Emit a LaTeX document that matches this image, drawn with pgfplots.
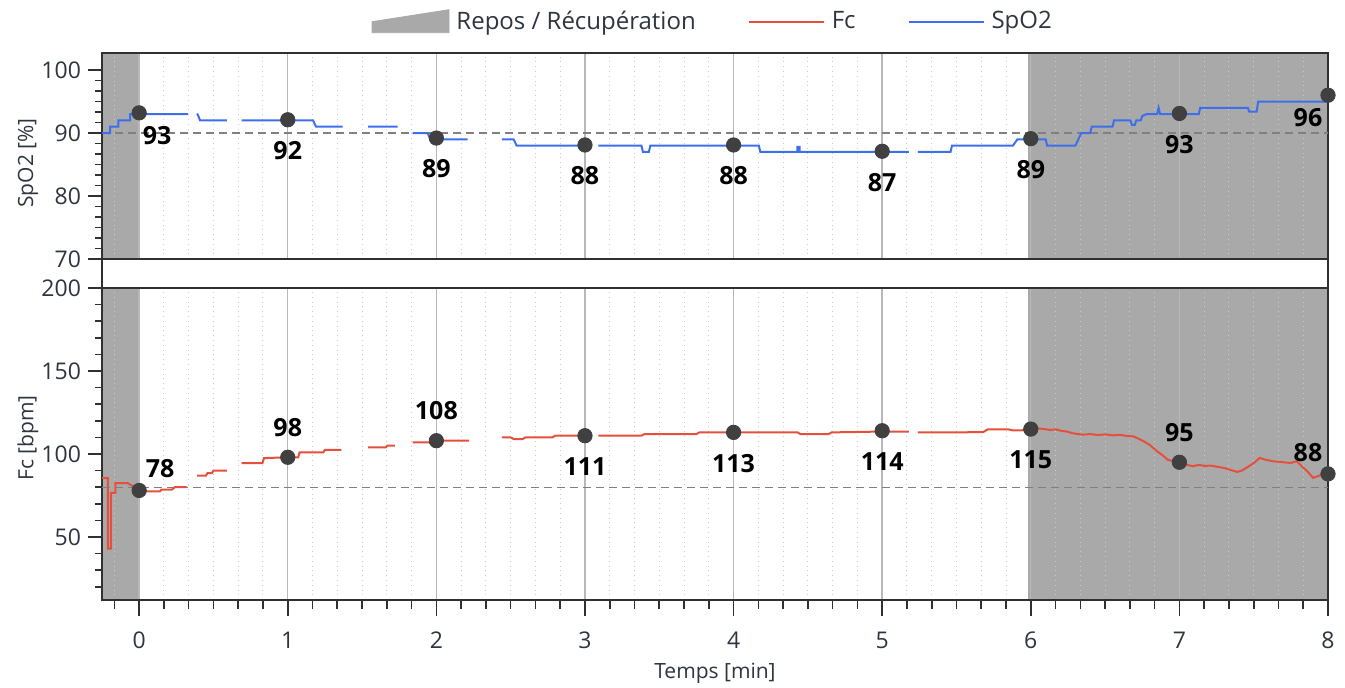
\documentclass[border=0pt]{standalone}
\usepackage{fontspec}
\setmainfont{Open Sans}
\usepackage{pgfplots}
\pgfplotsset{compat=1.18}
\definecolor{shadegray}{HTML}{A9A9A9}
\definecolor{spo}{HTML}{3D6EEB}
\definecolor{fcc}{HTML}{E4503C}
\definecolor{mk}{HTML}{404040}
\definecolor{tl}{HTML}{2E3440}
\definecolor{frm}{HTML}{303030}
\pgfplotsset{
 layers/mylayers/.define layer set={axis background,axis grid,pre main,axis ticks,axis lines,axis tick labels,main,axis descriptions,axis foreground}{},
 common/.style={
  set layers=mylayers,
  scale only axis, width=613pt,
  xmin=-0.25, xmax=8,
  xtick={0,1,2,3,4,5,6,7,8},
  minor xtick={-0.1667,0.1667,0.3333,0.5,0.6667,0.8333,1.1667,1.3333,1.5,1.6667,1.8333,2.1667,2.3333,2.5,2.6667,2.8333,3.1667,3.3333,3.5,3.6667,3.8333,4.1667,4.3333,4.5,4.6667,4.8333,5.1667,5.3333,5.5,5.6667,5.8333,6.1667,6.3333,6.5,6.6667,6.8333,7.1667,7.3333,7.5,7.6667,7.8333},
  xmajorgrids, xminorgrids,
  major grid style={color=black!28, line width=0.7pt},
  minor grid style={color=black!20, dotted, line width=0.5pt},
  axis line style={frm, line width=1pt},
  tick align=outside, xtick pos=bottom, ytick pos=left,
  tick style={frm, line width=0.8pt},
  major tick length=7pt, minor tick length=3.6pt,
  tick label style={font=\fontsize{11.5}{13}\selectfont, color=tl},
  label style={font=\fontsize{10.5}{12}\selectfont, color=tl},
  /pgf/number format/assume math mode=true,
  clip=false,
  unbounded coords=jump,
 },
 lbl/.style={draw=none, nodes near coords, point meta=explicit symbolic,
   nodes near coords style={font=\bfseries\fontsize{12.5}{14}\selectfont, text=black, anchor=center, #1}},
}
\begin{document}
\begin{tikzpicture}
% ---------- top: SpO2 ----------
\begin{axis}[common,
  at={(51pt,214pt)}, anchor=south west, height=103pt,
  ymin=70, ymax=102.7,
  ytick={70,80,90,100},
  minor ytick={71.667,73.333,75,76.667,78.333,81.667,83.333,85,86.667,88.333,91.667,93.333,95,96.667,98.333},
  xticklabels={},
  xtick style={draw=none},
  ylabel={SpO2 [\%]},
  ylabel style={at={(axis description cs:-0.0604,0.466)}, anchor=center},
  legend columns=3,
  legend style={at={(axis description cs:0.499,1.152)}, anchor=center, draw=none, fill=none,
    font=\fontsize{12}{14}\selectfont, text=tl,
    /tikz/every odd column/.style={column sep=1.5pt},
    /tikz/every even column/.style={column sep=24pt}},
]
\addplot[draw=none, fill=shadegray, forget plot, on layer=pre main] coordinates {(-0.25,70) (0,70) (0,102.7) (-0.25,102.7)} -- cycle;
\addplot[draw=none, fill=shadegray, forget plot, on layer=pre main] coordinates {(5.98,70) (8,70) (8,102.7) (5.98,102.7)} -- cycle;
\addplot[forget plot, color=black!50, line width=0.6pt, dash pattern=on 4pt off 2.5pt] coordinates {(-0.25,90) (8,90)};
\addplot[forget plot, spo, line width=1pt] coordinates {
(-0.25,90) (-0.195,90) (-0.195,91) (-0.14,91) (-0.14,92) (-0.06,92) (-0.06,93) (0.33,93)
(0.36,nan)
(0.39,93.1) (0.40,92.6) (0.41,92) (0.59,92)
(0.64,nan)
(0.69,92) (1.17,92) (1.19,91) (1.37,91)
(1.45,nan)
(1.54,91) (1.74,91)
(1.79,nan)
(1.84,90) (1.94,90) (1.96,89) (2.21,89)
(2.3,nan)
(2.44,89) (2.52,89) (2.54,88) (3.04,88)
(3.06,nan)
(3.09,88) (3.38,88) (3.39,87) (3.43,87) (3.44,88) (4.17,88) (4.18,87) (4.43,87) (4.43,87.8) (4.445,87.8) (4.445,87) (5.18,87)
(5.21,nan)
(5.24,87) (5.46,87) (5.47,88) (5.88,88) (5.91,89) (6.10,89) (6.11,88) (6.30,88) (6.32,89) (6.34,90) (6.40,90) (6.41,91) (6.55,91) (6.56,92) (6.67,92) (6.68,91.3) (6.70,91.3) (6.71,92) (6.74,92) (6.75,92.7) (6.78,93) (6.85,93) (6.86,94) (6.87,93) (7.13,93) (7.14,94) (7.46,94) (7.47,93.4) (7.52,93.4) (7.53,95) (8,95)
};
\addplot[forget plot, only marks, mark=*, mark size=3.6pt, mark options={fill=mk, draw=mk}] coordinates {
(0,93.2) (1,92.1) (2,89.2) (3,88.1) (4,88.1) (5,87.1) (6,89.1) (7,93.1) (8,96)};
\addplot[forget plot, lbl={xshift=9pt, yshift=-11.5pt}] coordinates {(0,93.2)[93]};
\addplot[forget plot, lbl={yshift=-15.5pt}] coordinates {(1,92.1)[92] (2,89.2)[89] (3,88.1)[88] (4,88.1)[88] (5,87.1)[87] (6,89.1)[89] (7,93.1)[93]};
\addplot[forget plot, lbl={xshift=-10pt, yshift=-11pt}] coordinates {(8,96)[96]};
\addlegendimage{legend image code/.code={\fill[shadegray] (0pt,-5.5pt) -- (0pt,0pt) -- (38.5pt,6pt) -- (38.5pt,-5.5pt) -- cycle;}}
\addlegendimage{legend image code/.code={\draw[fcc, line width=1pt] (0pt,0pt) -- (37.5pt,0pt);}}
\addlegendimage{legend image code/.code={\draw[spo, line width=1pt] (0pt,0pt) -- (37.5pt,0pt);}}
\legend{Repos / Récupération, Fc, SpO2}
\end{axis}
% gap sides
\draw[frm, line width=1pt] (51pt,214pt) -- (51pt,199.5pt);
\draw[frm, line width=1pt] (664pt,214pt) -- (664pt,199.5pt);
% ---------- bottom: Fc ----------
\begin{axis}[common,
  at={(51pt,43.5pt)}, anchor=south west, height=156pt,
  ymin=12, ymax=200,
  ytick={50,100,150,200},
  minor ytick={20,30,40,60,70,80,90,110,120,130,140,160,170,180,190},
  xtick style={/pgfplots/major tick length=8pt, /pgfplots/minor tick length=4.5pt},
  xlabel={Temps [min]},
  xlabel style={at={(axis description cs:0.5,-0.234)}, anchor=center},
  ylabel={Fc [bpm]},
  ylabel style={at={(axis description cs:-0.0604,0.519)}, anchor=center},
  xticklabel style={yshift=-5.5pt},
]
\addplot[draw=none, fill=shadegray, on layer=pre main] coordinates {(-0.25,12) (0,12) (0,200) (-0.25,200)} -- cycle;
\addplot[draw=none, fill=shadegray, on layer=pre main] coordinates {(5.98,12) (8,12) (8,200) (5.98,200)} -- cycle;
\addplot[color=black!50, line width=0.6pt, dash pattern=on 4pt off 2.5pt] coordinates {(-0.25,80) (8,80)};
\addplot[fcc, line width=1pt] coordinates {
(-0.25,85.5) (-0.21,85.5) (-0.21,43) (-0.19,43) (-0.19,76.5) (-0.16,76.5) (-0.16,82.5) (-0.08,82.5) (-0.05,81) (0,78) (0.05,77.5) (0.14,77.5) (0.15,78.5) (0.22,78.5) (0.24,80) (0.32,80)
(0.36,nan)
(0.39,87) (0.45,87) (0.46,88.5) (0.49,88.5) (0.50,90) (0.59,90)
(0.64,nan)
(0.69,94.5) (0.83,94.5) (0.84,97.5) (1,98) (1.07,98) (1.08,101) (1.24,101) (1.25,102.5) (1.36,102.5)
(1.45,nan)
(1.54,104) (1.66,104) (1.67,105) (1.72,105)
(1.79,nan)
(1.84,107) (1.95,107) (2,108) (2.22,108)
(2.3,nan)
(2.44,110) (2.50,110) (2.52,109) (2.58,109) (2.60,110) (2.78,110) (2.80,111) (3.04,111)
(3.06,nan)
(3.09,111) (3.38,111) (3.40,112) (3.75,112) (3.77,113) (4.43,113) (4.45,112) (4.64,112) (4.66,113) (5,113.5) (5.18,113.5)
(5.21,nan)
(5.24,113) (5.5,113) (5.68,113.2) (5.71,114.8) (5.85,114.8) (5.88,114.2) (5.95,114.3) (6,115)
(6.04,115.5) (6.09,115) (6.13,114.5) (6.17,114.8) (6.21,113.8) (6.24,113.6) (6.28,112.5) (6.32,112) (6.35,111.6) (6.4,112) (6.45,111.4) (6.5,111.8) (6.55,111.2) (6.6,111.5) (6.65,110.8) (6.69,110.6) (6.73,109) (6.76,107.6) (6.8,105.5) (6.85,101.6) (6.89,99) (6.92,96.6) (6.96,95.5) (7,94.6) (7.05,93.5) (7.09,92.6) (7.13,93.4) (7.17,92.8) (7.21,93) (7.26,92.2) (7.30,91.6) (7.35,90.2) (7.39,89.2) (7.42,90) (7.45,91.6) (7.5,94.5) (7.54,97.6) (7.58,96.5) (7.63,95.6) (7.68,95.2) (7.72,94.8) (7.75,94.6) (7.79,95.6) (7.83,92) (7.86,89.6) (7.9,85.6) (7.95,87.2) (8,87.6)
};
\addplot[only marks, mark=*, mark size=3.6pt, mark options={fill=mk, draw=mk}] coordinates {
(0,78) (1,98) (2,108) (3,111) (4,113) (5,114) (6,115) (7,95) (8,88)};
\addplot[lbl={xshift=10.5pt, yshift=11pt}] coordinates {(0,78)[78]};
\addplot[lbl={yshift=15pt}] coordinates {(1,98)[98] (2,108)[108] (7,95)[95]};
\addplot[lbl={yshift=-15.5pt}] coordinates {(3,111)[111] (4,113)[113] (5,114)[114] (6,115)[115]};
\addplot[lbl={xshift=-10pt, yshift=10.5pt}] coordinates {(8,88)[88]};
\end{axis}
\pgfresetboundingbox
\useasboundingbox (0,0) rectangle (672.5pt,343.5pt);
\end{tikzpicture}
\end{document}
